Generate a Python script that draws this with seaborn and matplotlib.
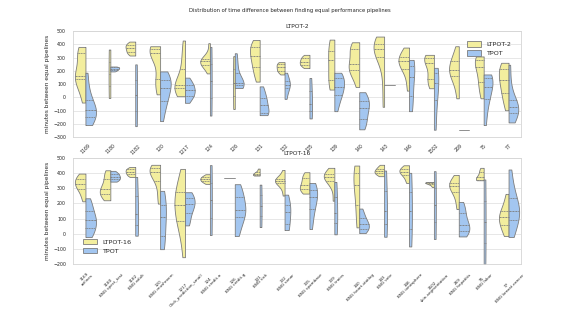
import numpy as np
import pandas as pd
import matplotlib
matplotlib.use("Agg")
import matplotlib.pyplot as plt
import seaborn as sns

# ---------------- data ----------------
top_ids = ["1169", "1180", "1182", "120", "1217", "124", "126", "131", "132",
           "135", "139", "140", "143", "146", "1502", "269", "75", "77"]
bottom_labels = ["1169\nairlines", "1180\nBNG spect_test", "1182\nBNG adult",
                 "120\nBNG mushroom", "1217\nClick_prediction_small",
                 "124\nBNG credit-a", "126\nBNG credit-g", "131\nBNG sick",
                 "132\nBNG sonar", "135\nBNG spambase", "139\nBNG trains",
                 "140\nBNG heart-statlog", "143\nBNG vote", "146\nBNG ionosphere",
                 "1502\nskin-segmentation", "269\nBNG hepatitis", "75\nBNG labor",
                 "77\nBNG breast-cancer"]

ltpot2 = [
    [-40, 40, 110, 148, 152, 158, 162, 240, 330, 340, 360, 380],
    [-5, 360],
    [315, 325, 338, 345, 360, 372, 380, 390, 398, 410, 420],
    [22, 80, 130, 140, 300, 330, 345, 355, 362, 368, 375, 385],
    [8, 30, 55, 70, 80, 88, 95, 110, 200, 260, 340, 428],
    [180, 220, 238, 250, 262, 270, 278, 288, 295, 330, 408],
    [-88, 310],
    [118, 170, 215, 240, 290, 312, 330, 370, 395, 405, 432],
    [172, 190, 200, 210, 225, 235, 250, 258, 265],
    [220, 232, 240, 250, 262, 268, 275, 290, 300, 310, 320],
    [58, 120, 140, 278, 300, 400, 435],
    [78, 150, 198, 205, 230, 240, 260, 330, 360, 370, 395, 415],
    [-72, 100, 250, 320, 340, 355, 372, 385, 400, 415, 430, 458],
    [50, 130, 200, 222, 240, 265, 275, 290, 298, 320, 350, 375],
    [68, 100, 128, 150, 200, 260, 282, 290, 300, 310, 320],
    [-8, 80, 150, 168, 185, 205, 230, 260, 280, 320, 385],
    [-8, 60, 102, 150, 200, 250, 278, 285, 295, 308],
    [-98, -20, 8, 60, 110, 130, 150, 200, 232, 245, 260],
]
tpot_top = [
    [-210, -190, -165, -140, -110, -100, -90, -70, -30, 10, 80, 185],
    [195, 200, 205, 210, 215, 218, 222, 226, 230, 232],
    [-218, 248],
    [-180, -100, -40, -20, 30, 60, 75, 110, 125, 150, 180, 195],
    [-42, -10, 5, 20, 40, 52, 65, 85, 100, 120, 148],
    [-138, 380],
    [70, 80, 88, 95, 105, 115, 130, 200, 260, 332],
    [-135, -130, -125, -110, -80, -40, -25, 0, 40, 82],
    [-12, 60, 92, 100, 128, 185],
    [-160, -48, 145],
    [-105, -40, 2, 30, 60, 78, 100, 130, 155, 170, 185],
    [-242, -220, -180, -150, -110, -80, -60, -40, -10, 10, 38],
    [92],
    [-105, -22, 100, 208, 250, 282],
    [-245, -18, 105, 180, 222],
    [-245],
    [-210, -100, -20, 10, 60, 100, 128, 150, 165, 172],
    [-190, -170, -135, -110, -80, -72, -60, -48, 0, 100, 245],
]
ltpot16 = [
    [214, 250, 287, 300, 320, 329, 340, 353, 370, 385, 397],
    [221, 240, 258, 270, 283, 295, 310, 340, 380, 400, 419],
    [375, 382, 390, 398, 406, 412, 420, 426, 432, 441],
    [199, 260, 330, 369, 390, 410, 420, 428, 435, 445, 455],
    [-155, 0, 60, 102, 150, 192, 220, 260, 291, 350, 428],
    [329, 340, 346, 352, 358, 364, 370, 375, 382, 393],
    [366],
    [384, 386, 390, 395, 400, 410, 430],
    [252, 300, 330, 346, 348, 350, 353, 360, 380, 421],
    [265, 280, 291, 300, 313, 330, 355, 370, 390, 406],
    [218, 300, 340, 357, 365, 375, 382, 390, 400, 420, 435],
    [42, 150, 300, 346, 420, 450],
    [380, 390, 397, 405, 410, 417, 425, 432, 445, 455],
    [335, 360, 385, 397, 405, 413, 420, 428, 440, 452],
    [309, 320, 328, 332, 335, 338, 340, 342, 342],
    [163, 220, 269, 290, 310, 320, 327, 340, 360, 388],
    [353, 355, 358, 365, 380, 400, 420, 435],
    [-15, 20, 49, 80, 100, 115, 130, 160, 200, 263],
]
tpot_bottom = [
    [-22, 0, 20, 50, 80, 90, 100, 130, 168, 200, 234],
    [344, 350, 358, 365, 372, 380, 388, 395, 405, 415],
    [-13, 128, 375],
    [-102, -40, 70, 150, 200, 283],
    [55, 80, 132, 160, 190, 199, 210, 243, 260, 274],
    [-9, 453],
    [-15, 40, 95, 120, 150, 157, 180, 230, 256, 290, 327],
    [44, 324],
    [24, 42, 132, 150, 200, 258],
    [31, 120, 177, 230, 249, 285, 310, 335],
    [-4, 140, 342],
    [4, 15, 29, 45, 60, 66, 80, 108, 130, 166],
    [-20, 150, 417],
    [-84, 152, 402],
    [-35, 413],
    [-18, 0, 9, 30, 50, 57, 80, 120, 148, 180, 210],
    [-200, 358],
    [-22, 20, 73, 110, 140, 148, 170, 220, 254, 320, 424],
]

YELLOW = "#f3ee9e"
BLUE = "#a3c6f0"


def build(cats, a_vals, a_name, b_vals, b_name):
    rows = []
    for c, va, vb in zip(cats, a_vals, b_vals):
        rows += [(c, a_name, v) for v in va]
        rows += [(c, b_name, v) for v in vb]
    return pd.DataFrame(rows, columns=["dataset", "method", "minutes"])


sns.set_style("whitegrid")
plt.rcParams["font.family"] = ["DejaVu Sans"]

fig = plt.figure(figsize=(5.79, 3.11), dpi=100)
ax1 = fig.add_axes([73 / 579, 1 - 137 / 311, 448 / 579, 106 / 311])
ax2 = fig.add_axes([73 / 579, 1 - 264 / 311, 448 / 579, 106 / 311])

panels = [
    (ax1, top_ids, top_ids, ltpot2, "LTPOT-2", tpot_top, (-300, 500), "upper right", 3.3),
    (ax2, bottom_labels, bottom_labels, ltpot16, "LTPOT-16", tpot_bottom, (-200, 500), "lower left", 3.0),
]

for ax, cats, ticklabels, a_vals, a_name, b_vals, ylim, loc, xfs in panels:
    df = build(cats, a_vals, a_name, b_vals, "TPOT")
    sns.violinplot(data=df, x="dataset", y="minutes", hue="method", order=cats,
                   hue_order=[a_name, "TPOT"], split=True, inner="quart", cut=0,
                   density_norm="count", palette=[YELLOW, BLUE], saturation=1,
                   linecolor="#7c7c7c", linewidth=0.6, width=0.85, ax=ax)
    ax.set_ylim(*ylim)
    ax.set_yticks(np.arange(ylim[0], ylim[1] + 1, 100))
    ax.set_title(a_name, fontsize=4.3, pad=2.5)
    ax.set_xlabel("")
    ax.set_ylabel("minutes between equal pipelines", fontsize=4.2, labelpad=2)
    ax.set_xticks(range(len(cats)))
    ax.set_xticklabels(ticklabels, rotation=45, fontsize=xfs, ha="center",
                       linespacing=1.0)
    ax.tick_params(axis="y", labelsize=3.4, pad=1.5)
    ax.tick_params(axis="x", pad=1.0)
    ax.grid(axis="y", color="#e3e3e3", linewidth=0.6)
    ax.grid(axis="x", visible=False)
    for sp in ax.spines.values():
        sp.set_color("#d5d5d5")
        sp.set_linewidth(0.6)
    handles, labels = ax.get_legend_handles_labels()
    if ax.get_legend() is not None:
        ax.get_legend().remove()
    ax.legend(handles, labels, loc=loc, fontsize=4.6, frameon=False,
              handlelength=2.2, handleheight=0.9, borderaxespad=1.2)

fig.suptitle("Distribution of time difference between finding equal performance pipelines",
             fontsize=3.8, y=1 - 8 / 311)

fig.savefig("out.png", dpi=100)
